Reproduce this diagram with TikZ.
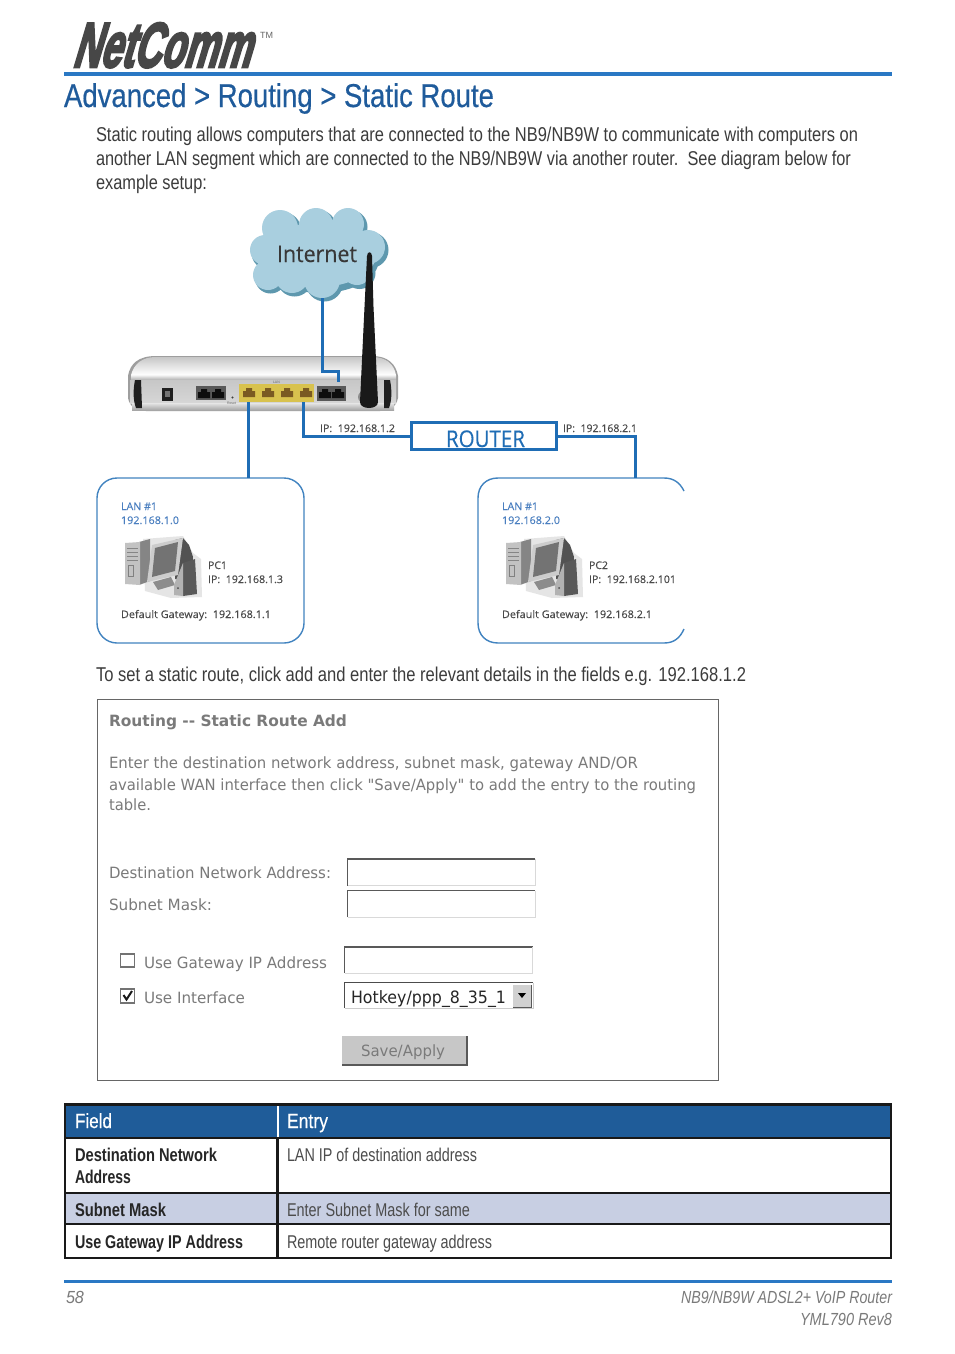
\documentclass[tikz,border=0pt]{standalone}
\usepackage{fontspec}
\usepackage{graphicx}
\setmainfont{Liberation Sans}
\newfontfamily\logofont[FakeSlant=0.5,FakeBold=4.5]{Liberation Sans Bold}
\newfontfamily\medfont[FakeBold=0.5]{Liberation Sans}
\newfontfamily\dgmfont[FakeBold=0.25]{Open Sans}
\newfontfamily\uifont{DejaVu Sans}
\newcommand{\fsz}[1]{\fontsize{#1}{#1}\selectfont}
\newcommand{\fw}[2]{\resizebox{#1pt}{\height}{#2}}
\definecolor{barblue}{HTML}{2A78C4}
\definecolor{titleblue}{HTML}{1F5B9B}
\definecolor{linkblue}{HTML}{1F6DB5}
\definecolor{lanblue}{HTML}{4A7FC0}
\definecolor{bodygrey}{HTML}{3C3C3C}
\definecolor{uigrey}{HTML}{7A7A7A}
\definecolor{dgmgrey}{HTML}{4A4A4A}
\definecolor{hdrblue}{HTML}{1F5C99}
\definecolor{rowblue}{HTML}{C8CFE3}
\definecolor{cloudfill}{HTML}{A9CFDF}
\definecolor{cloudshade}{HTML}{5E98AE}
\definecolor{portyellow}{HTML}{D8C24E}
\definecolor{portbrown}{HTML}{7A5A22}
\tikzset{
  x=1pt,y=-1pt,
  txt/.style={anchor=base west,inner sep=0pt,outer sep=0pt},
  body/.style={txt,text=bodygrey,font=\fsz{20}},
  ui/.style={txt,text=uigrey,font=\uifont\fsz{15.5}},
  dgm/.style={txt,text=dgmgrey,font=\dgmfont\fsz{10.5}},
  lanlab/.style={txt,text=lanblue,font=\dgmfont\fsz{10.5}},
  tblb/.style={txt,text=black!85,font=\bfseries\fsz{18.5}},
  tblr/.style={txt,text=black!70,font=\fsz{18.5}},
  tblh/.style={txt,text=white,font=\medfont\fsz{20.5}},
  foot/.style={txt,text=uigrey,font=\itshape\fsz{17.5}},
  link/.style={draw=linkblue,line width=3pt,line join=miter},
  lanbox/.style={draw=linkblue!85,line width=1.4pt},
  tline/.style={draw=black!90,line width=2.2pt},
}
\newcommand{\fieldbox}[4]{%
  \fill[white] (#1,#2) rectangle (#3,#4);
  \draw[black!65,line width=1.6pt] (#1,#4) -- (#1,#2) -- (#3,#2);
  \draw[black!15,line width=1pt] (#3,#2) -- (#3,#4) -- (#1,#4);
}
\newcommand{\pcicon}[2]{%
  \begin{scope}[shift={(#1,#2)}]
    % soft halo
    \fill[black!10] (18,0) -- (58,-3) -- (68,14) -- (76,20) -- (77,58) -- (46,59) -- (20,52) -- cycle;
    % tower
    \fill[black!48] (14,3) -- (25,0) -- (25,42) -- (14,46) -- cycle;
    \fill[black!24] (0,4) -- (15,3) -- (15,46) -- (0,45) -- cycle;
    \draw[black!48,line width=.5pt] (2,9) -- (13,9) (2,13) -- (13,13) (2,17) -- (13,17) (2,21) -- (13,21);
    \draw[black!50,line width=.6pt] (3,26) rectangle (8,37);
    % monitor body and stand
    \fill[black!68] (50,1) -- (58,-1) -- (64,6) -- (68,18) -- (66,40) -- (50,40) -- cycle;
    \fill[black!45] (28,43) -- (46,38) -- (50,46) -- (33,51) -- cycle;
    % bezel and screen
    \fill[black!20] (27,6) -- (58,-1) -- (53,36) -- (22,43) -- cycle;
    \fill[black!55] (30,9) -- (53,3) -- (50,32) -- (27,38) -- cycle;
    % speaker
    \fill[black!65] (58,24) -- (70,20) -- (72,55) -- (58,57) -- cycle;
    \fill[black!30] (49,46) -- (58,24) -- (58,57) -- (49,56) -- cycle;
    \fill[black!70] (53,49) circle (1);
  \end{scope}%
}
\newcommand{\rjport}[3]{% x y colour
  \fill[#3] (#1-6,#2+4) -- (#1-6,#2-2) -- (#1-3,#2-2) -- (#1-3,#2-5) -- (#1+3,#2-5) -- (#1+3,#2-2) -- (#1+6,#2-2) -- (#1+6,#2+4) -- cycle;
}
\begin{document}
\begin{tikzpicture}
\useasboundingbox (0,0) rectangle (954,1354);
\fill[white] (0,0) rectangle (954,1354);

% header
\node[txt,text=black!72,font=\logofont\fsz{40}] (logo) at (72,67) {\resizebox{178pt}{44pt}{NetComm}};
\node[txt,text=black!60,font=\fsz{9}] (tm) at (260,38) {\fw{13}{TM}};
\fill[barblue] (64,72) rectangle (892,76);
\node[txt,text=titleblue,font=\medfont\fsz{33}] (title) at (64,107) {\fw{430}{Advanced > Routing > Static Route}};
\node[body] (p1) at (96,141) {\fw{762}{Static routing allows computers that are connected to the NB9/NB9W to communicate with computers on}};
\node[body] (p2) at (96,165) {\fw{755}{another LAN segment which are connected to the NB9/NB9W via another router.\ \ See diagram below for}};
\node[body] (p3) at (96,189) {\fw{111}{example setup:}};

% cloud
\begin{scope}[shift={(2.5,3)}]
  \fill[cloudshade] (318,258) ellipse (58 and 32)
    (265,250) circle (16) (268,275) circle (15.5) (280,228) circle (19) (316,225) circle (18)
    (348,224) circle (17) (368,247) circle (18) (357,270) circle (16) (322,280) circle (18.5) (292,276) circle (17.5);
\end{scope}
\fill[cloudfill] (318,255) ellipse (58 and 32)
    (265,250) circle (15) (268,275) circle (15) (280,228) circle (18) (316,225) circle (17)
    (348,224) circle (16) (368,247) circle (17) (357,270) circle (15) (322,280) circle (18) (292,276) circle (17);
\node[txt,text=black!78,font=\dgmfont\fsz{23}] (inet) at (277,262) {\fw{80}{Internet}};
\coordinate (cloudbottom) at (322,298);

% router body
\fill[black!38] (128,398) -- (128,376) .. controls (130,364) and (138,356) .. (156,356) -- (372,356) .. controls (388,356) and (396,364) .. (398,376) -- (398,398) .. controls (396,407) and (390,411) .. (380,411) -- (146,411) .. controls (136,411) and (130,407) .. (128,398) -- cycle;
\shade[top color=black!22,bottom color=white] (131,375) .. controls (134,364) and (142,357) .. (156,357) -- (372,357) .. controls (386,357) and (394,364) .. (396,375) -- cycle;
\shade[top color=black!4,bottom color=black!32] (131,375) -- (396,375) -- (396,380) -- (131,380) -- cycle;
\shade[top color=black!22,bottom color=black!16] (130,380) rectangle (396,403);
\shade[top color=black!10,bottom color=black!35] (132,403) rectangle (394,410);
\fill[black!88] (135,380) -- (141,380) -- (142,408) -- (136,408) .. controls (133,400) and (133,390) .. (135,380) -- cycle;
\fill[black!88] (384,380) -- (390,380) .. controls (392,390) and (392,400) .. (389,408) -- (384,408) -- cycle;
\fill[black!88] (162,388) rectangle (173,401);
\fill[black!55] (165,391) rectangle (170,397);
\fill[black!65] (196,386) rectangle (226,400);
\rjport{204}{394}{black!95}
\rjport{218}{394}{black!95}
\fill[black!75] (232.5,397.5) circle (1.2);
\fill[portyellow] (239,384) rectangle (314,402);
\rjport{249}{393}{portbrown}
\rjport{268}{393}{portbrown}
\rjport{287}{393}{portbrown}
\rjport{306}{393}{portbrown}
\fill[black!65] (317,386) rectangle (346,401);
\rjport{325}{394}{black!95}
\rjport{338}{394}{black!95}
\node[txt,text=black!60,font=\fsz{3.5}] (rst) at (227,404) {Reset};
\node[txt,text=black!60,font=\fsz{3.5}] (lanp) at (273,383) {LAN};
\fill[black!45] (364,397) circle (6);
\coordinate (wanport) at (338,382);
\coordinate (lanporta) at (248,402);
\coordinate (lanportb) at (303,402);

% LAN boxes
\draw[lanbox,rounded corners=20pt] (97,478) rectangle (304,643);
\draw[lanbox] (684,491) .. controls (680,483) and (674,478) .. (664,478) -- (498,478) .. controls (486,478) and (478,486) .. (478,498) -- (478,623) .. controls (478,635) and (486,643) .. (498,643) -- (664,643) .. controls (674,643) and (680,638) .. (684,629);
\coordinate (lanatop) at (248,478);
\coordinate (lanbtop) at (635,478);

% router box
\node[draw=linkblue,line width=3pt,minimum width=145pt,minimum height=27pt,inner sep=0pt,fill=white] (router) at (483.5,436) {};
\node[txt,text=linkblue,font=\dgmfont\fsz{23}] (rlabel) at (446,447) {\fw{79}{ROUTER}};

% connectors
\draw[link] (cloudbottom) |- (330,371) -| (wanport);
\draw[link] (lanporta) -- (lanatop);
\draw[link] (lanportb) |- (router.west);
\draw[link] (router.east) -| (lanbtop);

% antenna (in front of the cable)
\fill[black!90] (367,256) .. controls (367.5,251) and (371.5,251) .. (372,256) -- (373.5,307) -- (378,402) .. controls (378,410) and (360,410) .. (360,402) -- (364.5,307) -- cycle;

\node[dgm] (ipa) at (320,432) {\fw{75}{IP:\ \ 192.168.1.2}};
\node[dgm] (ipb) at (563,432) {\fw{74}{IP:\ \ 192.168.2.1}};

% LAN 1 content
\node[lanlab] (l1a) at (121,510) {\fw{36}{LAN \#1}};
\node[lanlab] (l1b) at (121,524) {\fw{58}{192.168.1.0}};
\pcicon{125}{539}
\node[dgm] (pc1) at (208,569) {\fw{19}{PC1}};
\node[dgm] (pc1ip) at (208,583) {\fw{75}{IP:\ \ 192.168.1.3}};
\node[dgm] (gw1) at (121,618) {\fw{150}{Default Gateway:\ \ 192.168.1.1}};

% LAN 2 content
\node[lanlab] (l2a) at (502,510) {\fw{36}{LAN \#1}};
\node[lanlab] (l2b) at (502,524) {\fw{58}{192.168.2.0}};
\pcicon{506}{539}
\node[dgm] (pc2) at (589,569) {\fw{19}{PC2}};
\node[dgm] (pc2ip) at (589,583) {\fw{87}{IP:\ \ 192.168.2.101}};
\node[dgm] (gw2) at (502,618) {\fw{150}{Default Gateway:\ \ 192.168.2.1}};

\node[body] (p4) at (96,681) {\fw{650}{To set a static route, click add and enter the relevant details in the fields e.g. 192.168.1.2}};

% screenshot panel
\draw[black!60,line width=1pt] (97.5,699.5) rectangle (718,1080);
\node[ui,font=\uifont\bfseries\fsz{15.5}] (s0) at (109,726) {\fw{238}{Routing -- Static Route Add}};
\node[ui] (s1) at (109,768) {\fw{529}{Enter the destination network address, subnet mask, gateway AND/OR}};
\node[ui] (s2) at (109,790) {\fw{587}{available WAN interface then click "Save/Apply" to add the entry to the routing}};
\node[ui] (s3) at (109,810) {\fw{42}{table.}};
\node[ui] (s4) at (109,878) {\fw{222}{Destination Network Address:}};
\node[ui] (s5) at (109,910) {\fw{103}{Subnet Mask:}};
\fieldbox{347.5}{859}{535}{885.5}
\fieldbox{347.5}{890.5}{535}{917}
\fieldbox{344.5}{947}{532.5}{973}
\draw[black!55,line width=1.6pt,fill=white] (120.5,954) rectangle (134.5,967);
\draw[black!55,line width=1.6pt,fill=white] (120.5,989) rectangle (134.5,1003);
\draw[black!90,line width=2pt] (123.5,995) -- (126.5,999.5) -- (132,991);
\node[ui] (s6) at (144,968) {\fw{183}{Use Gateway IP Address}};
\node[ui] (s7) at (144,1003) {\fw{101}{Use Interface}};
\fill[white] (344.5,982) rectangle (533,1008);
\draw[black!70,line width=1.8pt] (344.5,1008) -- (344.5,982.5) -- (533,982.5);
\draw[black!20,line width=1pt] (533,982.5) -- (533,1008) -- (344.5,1008);
\node[txt,text=black!85,font=\uifont\fsz{17}] (sel) at (351,1003) {\fw{155}{Hotkey/ppp\_8\_35\_1}};
\fill[black!18] (513,985) rectangle (531,1007);
\draw[black!65,line width=1pt] (513,1007) -- (531,1007) -- (531,985);
\fill[black] (518,993) -- (526,993) -- (522,998) -- cycle;
\fill[black!22] (342,1036) rectangle (467,1065);
\draw[black!65,line width=1.4pt] (342,1065) -- (467,1065) -- (467,1036);
\node[ui,font=\uifont\fsz{15.5}] (btn) at (361,1056) {\fw{84}{Save/Apply}};

% table
\fill[hdrblue] (65,1104) rectangle (891,1138);
\fill[rowblue] (65,1193) rectangle (891,1224);
\draw[white,line width=2pt] (277.5,1105) -- (277.5,1137);
\draw[tline] (277.5,1138) -- (277.5,1258);
\draw[tline] (65,1138) -- (891,1138);
\draw[tline] (65,1193) -- (891,1193);
\draw[tline] (65,1224) -- (891,1224);
\draw[black!90,line width=2.6pt] (65,1104.5) rectangle (891,1258);
\node[tblh] (h1) at (75,1128) {\fw{37}{Field}};
\node[tblh] (h2) at (287,1128) {\fw{41}{Entry}};
\node[tblb] (c1) at (75,1161) {\fw{142}{Destination Network}};
\node[tblb] (c1b) at (75,1183) {\fw{56}{Address}};
\node[tblr] (c2) at (287,1161) {\fw{190}{LAN IP of destination address}};
\node[tblb] (c3) at (75,1216) {\fw{91}{Subnet Mask}};
\node[tblr] (c4) at (287,1216) {\fw{183}{Enter Subnet Mask for same}};
\node[tblb] (c5) at (75,1248) {\fw{168}{Use Gateway IP Address}};
\node[tblr] (c6) at (287,1248) {\fw{205}{Remote router gateway address}};

% footer
\fill[barblue] (64,1280) rectangle (892,1283);
\node[foot] (f1) at (66,1303) {\fw{18}{58}};
\node[foot] (f2) at (681,1303) {\fw{211}{NB9/NB9W ADSL2+ VoIP Router}};
\node[foot] (f3) at (800,1325) {\fw{92}{YML790 Rev8}};
\end{tikzpicture}
\end{document}
